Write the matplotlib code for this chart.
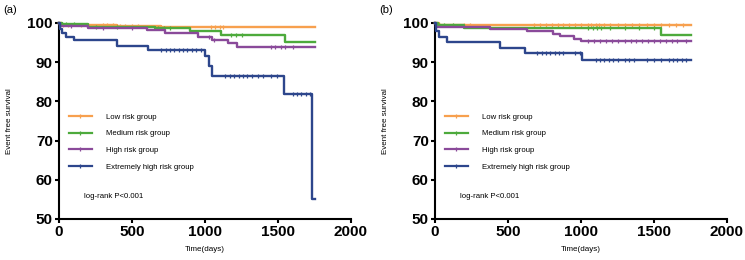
import numpy as np
import matplotlib
matplotlib.use('Agg')
import matplotlib.pyplot as plt
from matplotlib.lines import Line2D

plt.rcParams['font.family'] = ['Liberation Sans', 'DejaVu Sans']

# 分组与颜色
groups = ['Low risk group', 'Medium risk group', 'High risk group', 'Extremely high risk group']
colors = ['#F7A04E', '#4DAA3C', '#8A4A9A', '#2D468C']

# (a) 阶梯时间点 / 生存率
a_low_t = [0, 20, 400, 700, 1750]
a_low_s = [100, 99.5, 99.2, 98.9, 98.9]
a_med_t = [0, 20, 200, 660, 900, 1110, 1548, 1750]
a_med_s = [100, 99.7, 99.1, 98.8, 98.0, 96.9, 95.2, 95.2]
a_high_t = [0, 10, 200, 600, 726, 954, 1046, 1160, 1218, 1750]
a_high_s = [100, 99.2, 98.6, 98.2, 97.4, 96.5, 95.7, 94.8, 93.9, 93.9]
a_ext_t = [0, 5, 20, 50, 100, 395, 610, 1000, 1030, 1050, 1540, 1735, 1750]
a_ext_s = [100, 98.5, 97.5, 96.5, 95.6, 94.1, 93.1, 91.5, 89.0, 86.5, 81.8, 55.0, 55.0]

# (a) 删失时间
a_low_c = [30, 60, 150, 200, 300, 330, 370, 420, 450, 500, 540, 1040, 1070, 1100, 1125]
a_med_c = [20, 50, 100, 250, 400, 680, 720, 760, 1180, 1210, 1250]
a_high_c = [80, 300, 500, 1030, 1060, 1450, 1480, 1520, 1550, 1600]
a_ext_c = [700, 730, 760, 790, 820, 850, 880, 910, 940, 970, 1140, 1170, 1200, 1230,
           1260, 1290, 1320, 1360, 1400, 1450, 1490, 1600, 1630, 1660, 1690, 1720]

# (b) 阶梯时间点 / 生存率
b_low_t = [0, 30, 1750]
b_low_s = [100, 99.6, 99.6]
b_med_t = [0, 20, 200, 1546, 1750]
b_med_s = [100, 99.5, 98.6, 97.0, 97.0]
b_high_t = [0, 10, 378, 630, 811, 857, 950, 997, 1750]
b_high_s = [100, 99.0, 98.4, 97.9, 97.3, 96.7, 96.0, 95.3, 95.3]
b_ext_t = [0, 5, 30, 80, 447, 619, 1008, 1750]
b_ext_s = [100, 98.0, 96.5, 95.1, 93.7, 92.4, 90.5, 90.5]

# (b) 删失时间
b_low_c = [200, 240, 680, 720, 760, 800, 840, 880, 920, 960, 1000, 1050, 1070, 1100,
           1120, 1160, 1200, 1250, 1300, 1350, 1400, 1450, 1500, 1550, 1600, 1650, 1700]
b_med_c = [30, 60, 120, 1050, 1080, 1110, 1140, 1200, 1300, 1400, 1500]
b_high_c = [1050, 1090, 1130, 1170, 1210, 1250, 1300, 1340, 1380, 1420, 1460, 1500,
            1540, 1580, 1620, 1660, 1720]
b_ext_c = [700, 730, 760, 790, 820, 850, 880, 960, 990, 1100, 1130, 1160, 1190, 1220,
           1250, 1300, 1330, 1360, 1450, 1500, 1550, 1600, 1630, 1660, 1690, 1720]

panels = [
    ('(a)', [(a_low_t, a_low_s, a_low_c), (a_med_t, a_med_s, a_med_c),
             (a_high_t, a_high_s, a_high_c), (a_ext_t, a_ext_s, a_ext_c)]),
    ('(b)', [(b_low_t, b_low_s, b_low_c), (b_med_t, b_med_s, b_med_c),
             (b_high_t, b_high_s, b_high_c), (b_ext_t, b_ext_s, b_ext_c)]),
]


def surv_at(t, s, c):
    "删失点处的生存率"
    idx = np.searchsorted(np.array(t), np.array(c), side='right') - 1
    return np.array(s)[idx]


fig = plt.figure(figsize=(7.45, 2.6), dpi=100)
lefts = [59 / 745, 435 / 745]
for k, (tag, data) in enumerate(panels):
    ax = fig.add_axes([lefts[k], 41 / 260, 292 / 745, 196 / 260])
    for (t, s, c), col in zip(data, colors):
        ax.step(t, s, where='post', color=col, lw=1.7, clip_on=False, zorder=3)
        ax.plot(c, surv_at(t, s, c), ls='none', marker='|', ms=3, mew=0.9,
                color=col, clip_on=False, zorder=3)
    ax.set_xlim(0, 2000)
    ax.set_ylim(50, 100)
    ax.set_xticks([0, 500, 1000, 1500, 2000])
    ax.set_yticks([50, 60, 70, 80, 90, 100])
    for sp in ['top', 'right']:
        ax.spines[sp].set_visible(False)
    for sp in ['left', 'bottom']:
        ax.spines[sp].set_linewidth(1.5)
    ax.tick_params(direction='out', length=3, width=1.5, labelsize=11, pad=1.5)
    for lb in ax.get_xticklabels() + ax.get_yticklabels():
        lb.set_fontweight('bold')
    ax.set_xlabel('Time(days)', fontsize=5.8, labelpad=5)
    ax.set_ylabel('Event free survival', fontsize=5.8, labelpad=10)

    handles = [Line2D([0], [0], color=col, lw=1.6, marker='|', ms=3, mew=0.9)
               for col in colors]
    ax.legend(handles, groups, loc='upper left', bbox_to_anchor=(0.035, 0.54),
              frameon=False, fontsize=5.6, handlelength=2.9, handletextpad=1.8,
              labelspacing=1.2, borderpad=0, borderaxespad=0, numpoints=1)
    ax.text(0.086, 0.117, 'log-rank P<0.001', transform=ax.transAxes,
            fontsize=5.6, va='center', ha='left')
    fig.text(lefts[k] - 56 / 745, 1 - 10 / 260, tag, fontsize=8, va='center', ha='left')

plt.savefig('out.png', dpi=100)
